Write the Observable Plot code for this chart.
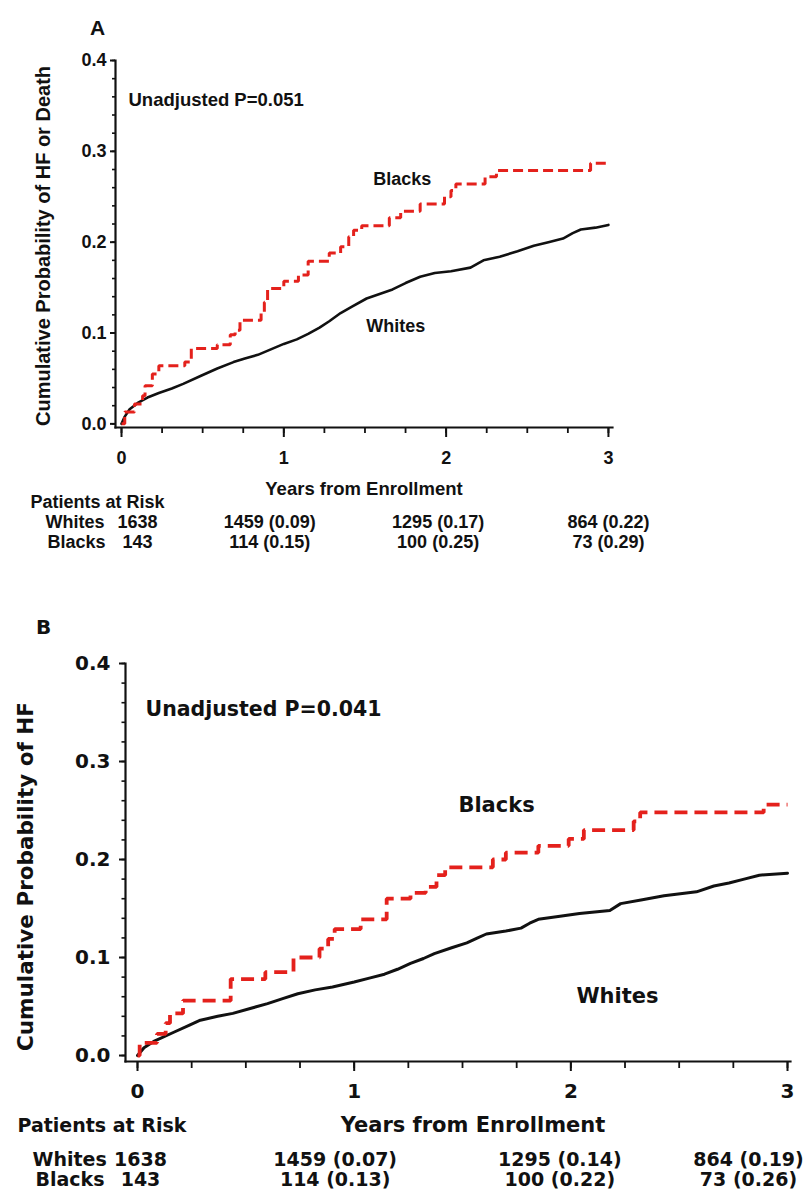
<!DOCTYPE html>
<html><head><meta charset="utf-8">
<script src="https://cdn.jsdelivr.net/npm/d3@7"></script>
<script src="https://cdn.jsdelivr.net/npm/@observablehq/plot@0.6"></script>
<style>
html,body{margin:0;padding:0;background:#fff;overflow:hidden;}
#wrap{position:relative;width:808px;height:1199px;background:#fff;}
#a{position:absolute;left:0;top:0;}
#b{position:absolute;left:0;top:600px;}
</style></head><body><div id="wrap"><div id="a"></div><div id="b"></div></div>
<script>
// ---- data ----
const years = [0, 1, 2, 3];
const yTicks = [0, 0.1, 0.2, 0.3, 0.4];
const groups = ["Whites", "Blacks"];

const whitesA = [[0,0],[0.02,0.008],[0.05,0.016],[0.1,0.023],[0.16,0.029],[0.23,0.034],[0.31,0.039],[0.38,0.044],[0.49,0.053],[0.59,0.061],[0.69,0.068],[0.76,0.072],[0.84,0.076],[0.92,0.082],[1.0,0.088],[1.08,0.093],[1.15,0.099],[1.22,0.106],[1.28,0.113],[1.35,0.122],[1.42,0.129],[1.51,0.138],[1.59,0.143],[1.67,0.148],[1.75,0.155],[1.84,0.162],[1.93,0.166],[2.03,0.168],[2.15,0.172],[2.23,0.18],[2.33,0.184],[2.44,0.19],[2.54,0.196],[2.63,0.2],[2.72,0.204],[2.78,0.21],[2.83,0.214],[2.92,0.216],[3.0,0.219]];
const blacksA = [[0,0],[0.02,0.013],[0.08,0.022],[0.13,0.031],[0.145,0.042],[0.19,0.055],[0.23,0.064],[0.39,0.068],[0.43,0.083],[0.59,0.087],[0.67,0.098],[0.70,0.103],[0.73,0.114],[0.86,0.123],[0.88,0.134],[0.90,0.149],[1.0,0.157],[1.09,0.164],[1.15,0.179],[1.28,0.188],[1.35,0.195],[1.40,0.206],[1.43,0.213],[1.48,0.218],[1.65,0.227],[1.72,0.234],[1.84,0.242],[1.99,0.25],[2.03,0.257],[2.06,0.264],[2.24,0.272],[2.31,0.279],[2.89,0.287],[3.0,0.287]];
const whitesB = [[0,0],[0.03,0.008],[0.08,0.015],[0.17,0.024],[0.24,0.031],[0.29,0.036],[0.37,0.04],[0.44,0.043],[0.52,0.048],[0.6,0.053],[0.67,0.058],[0.74,0.063],[0.82,0.067],[0.9,0.07],[1.0,0.075],[1.07,0.079],[1.14,0.083],[1.2,0.088],[1.26,0.094],[1.32,0.099],[1.37,0.104],[1.45,0.11],[1.52,0.115],[1.57,0.12],[1.61,0.124],[1.7,0.127],[1.77,0.13],[1.81,0.135],[1.85,0.139],[1.95,0.142],[2.04,0.145],[2.18,0.148],[2.23,0.155],[2.33,0.159],[2.43,0.163],[2.58,0.167],[2.66,0.173],[2.73,0.176],[2.8,0.18],[2.87,0.184],[3.0,0.186]];
const blacksB = [[0,0],[0.01,0.013],[0.09,0.022],[0.13,0.033],[0.15,0.043],[0.21,0.056],[0.43,0.078],[0.59,0.085],[0.72,0.1],[0.84,0.109],[0.88,0.119],[0.91,0.129],[1.03,0.139],[1.15,0.16],[1.26,0.166],[1.33,0.172],[1.38,0.184],[1.42,0.192],[1.64,0.2],[1.70,0.207],[1.85,0.214],[1.99,0.221],[2.06,0.23],[2.29,0.239],[2.32,0.248],[2.89,0.256],[3.0,0.256]];

const atRiskWhitesA = [1638, 1459, 1295, 864];
const cumWhitesA    = [null, 0.09, 0.17, 0.22];
const atRiskBlacksA = [143, 114, 100, 73];
const cumBlacksA    = [null, 0.15, 0.25, 0.29];
const atRiskWhitesB = [1638, 1459, 1295, 864];
const cumWhitesB    = [null, 0.07, 0.14, 0.19];
const atRiskBlacksB = [143, 114, 100, 73];
const cumBlacksB    = [null, 0.13, 0.22, 0.26];

const curveLabelsA = [{text: "Blacks", t: 1.73, p: 0.269}, {text: "Whites", t: 1.69, p: 0.107}];
const curveLabelsB = [{text: "Blacks", t: 1.657, p: 0.255}, {text: "Whites", t: 2.215, p: 0.06}];

// ---- drawing ----
const fmt2 = d3.format(".2f");
const toObj = arr => arr.map(([t, p]) => ({t, p}));

function panel(o) {
  const rows = [
    {name: groups[0], n: o.whitesN, c: o.whitesC, dy: o.rowDy[0], ldx: o.rowLabelDx[0]},
    {name: groups[1], n: o.blacksN, c: o.blacksC, dy: o.rowDy[1], ldx: o.rowLabelDx[1]}
  ];
  const tableMarks = [];
  for (const r of rows) {
    tableMarks.push(Plot.text([r.name], {frameAnchor: "bottom-left", textAnchor: "start", dx: r.ldx, dy: r.dy, fontSize: o.tableSize}));
    years.forEach((yr, i) => {
      const label = i === 0 ? String(r.n[i]) : `${r.n[i]} (${fmt2(r.c[i])})`;
      tableMarks.push(Plot.text([{x: yr, label}], {x: "x", text: "label", frameAnchor: "bottom", textAnchor: "middle", dx: o.colDx[i], dy: r.dy, fontSize: o.tableSize}));
    });
  }
  const minorX = d3.range(0, 3.0001, 0.25);
  const minorY = d3.range(0, 0.40001, 0.02);
  return Plot.plot({
    width: 808, height: o.height,
    marginLeft: o.ml, marginRight: o.mr, marginTop: o.mt, marginBottom: o.mb,
    x: {domain: o.xDomain},
    y: {domain: o.yDomain},
    style: {fontFamily: o.font, fontWeight: "bold", color: "#111", background: "white", overflow: "visible"},
    marks: [
      Plot.axisY({ticks: minorY, tickSize: o.yMinor, tickFormat: () => "", label: null, strokeWidth: 1.6}),
      Plot.axisY({ticks: yTicks, tickSize: o.yMajor, tickPadding: o.yPad, tickFormat: d3.format(".1f"), label: null, fontSize: o.tickSize, fontWeight: "bold", strokeWidth: 2}),
      Plot.axisX({ticks: minorX, tickSize: o.xMinor, tickFormat: () => "", label: null, strokeWidth: 1.8}),
      Plot.axisX({ticks: years, tickSize: o.xMajor, tickPadding: o.xPad, tickFormat: d3.format("d"), label: null, fontSize: o.tickSize, fontWeight: "bold", strokeWidth: 2}),
      Plot.frame({anchor: "left", strokeWidth: 2.2, stroke: "#111"}),
      Plot.frame({anchor: "bottom", strokeWidth: 2.2, stroke: "#111"}),
      Plot.line(toObj(o.whites), {x: "t", y: "p", stroke: "#111", strokeWidth: o.wWidth, strokeLinejoin: "round"}),
      Plot.line(toObj(o.blacks), {x: "t", y: "p", curve: "step-after", stroke: "#e4211c", strokeWidth: o.bWidth, strokeDasharray: o.dash, strokeLinecap: "butt", strokeLinejoin: "miter"}),
      Plot.text(o.curveLabels, {x: "t", y: "p", text: "text", fontSize: o.curveSize}),
      Plot.text([o.pText], {frameAnchor: "top-left", textAnchor: "start", dx: o.pDx, dy: o.pDy, fontSize: o.pSize}),
      Plot.text([o.letter], {frameAnchor: "top-left", textAnchor: "middle", dx: o.letterDx, dy: o.letterDy, fontSize: o.letterSize}),
      Plot.text([o.yLabel], {frameAnchor: "left", textAnchor: "middle", rotate: -90, dx: o.yLabelDx, dy: o.yLabelDy, fontSize: o.yLabelSize, letterSpacing: o.yLabelSpacing}),
      Plot.text(["Years from Enrollment"], {frameAnchor: "bottom", textAnchor: "middle", dx: o.xLabelDx, dy: o.xLabelDy, fontSize: o.xLabelSize}),
      Plot.text(["Patients at Risk"], {frameAnchor: "bottom-left", textAnchor: "start", dx: o.parDx, dy: o.parDy, fontSize: o.tableSize}),
      ...tableMarks
    ]
  });
}

const chartA = panel({
  height: 560, ml: 115, mr: 196, mt: 60, mb: 133,
  xDomain: [-0.037, 3.025], yDomain: [-0.004, 0.4],
  font: "'Liberation Sans', Arial, sans-serif",
  tickSize: 18, yMajor: 5, yMinor: 3, yPad: 4, xMajor: 10, xMinor: 6, xPad: 14,
  whites: whitesA, blacks: blacksA, wWidth: 2.6, bWidth: 3, dash: "10,5",
  curveLabels: curveLabelsA, curveSize: 18,
  pText: "Unadjusted P=0.051", pDx: 13, pDy: 32, pSize: 18.5,
  letter: "A", letterDx: -18, letterDy: -40, letterSize: 21,
  yLabel: "Cumulative Probability of HF or Death", yLabelDx: -72, yLabelDy: 2, yLabelSize: 20, yLabelSpacing: "0.25px",
  xLabelDx: 0, xLabelDy: 67, xLabelSize: 18.5,
  parDx: -85, parDy: 80, tableSize: 18,
  whitesN: atRiskWhitesA, whitesC: cumWhitesA, blacksN: atRiskBlacksA, blacksC: cumBlacksA,
  rowDy: [100, 120], rowLabelDx: [-70, -68], colDx: [16, -14, -8, 0]
});

const chartB = panel({
  height: 599, ml: 125, mr: 18, mt: 63, mb: 138,
  xDomain: [-0.0554, 3.0138], yDomain: [-0.0061, 0.4],
  font: "'DejaVu Sans', sans-serif",
  tickSize: 20, yMajor: 6, yMinor: 3.5, yPad: 9, xMajor: 10, xMinor: 7, xPad: 12,
  whites: whitesB, blacks: blacksB, wWidth: 3, bWidth: 3.8, dash: "13,7",
  curveLabels: curveLabelsB, curveSize: 21,
  pText: "Unadjusted P=0.041", pDx: 20, pDy: 38, pSize: 20.5,
  letter: "B", letterDx: -82, letterDy: -44, letterSize: 20,
  yLabel: "Cumulative Probability of HF", yLabelDx: -99, yLabelDy: 14, yLabelSize: 21.5, yLabelSpacing: "0px",
  xLabelDx: 15, xLabelDy: 70, xLabelSize: 21,
  parDx: -108, parDy: 70, tableSize: 19,
  whitesN: atRiskWhitesB, whitesC: cumWhitesB, blacksN: atRiskBlacksB, blacksC: cumBlacksB,
  rowDy: [104, 124], rowLabelDx: [-93, -90], colDx: [3, -19, -11, -39]
});

document.getElementById("a").append(chartA);
document.getElementById("b").append(chartB);
</script></body></html>
